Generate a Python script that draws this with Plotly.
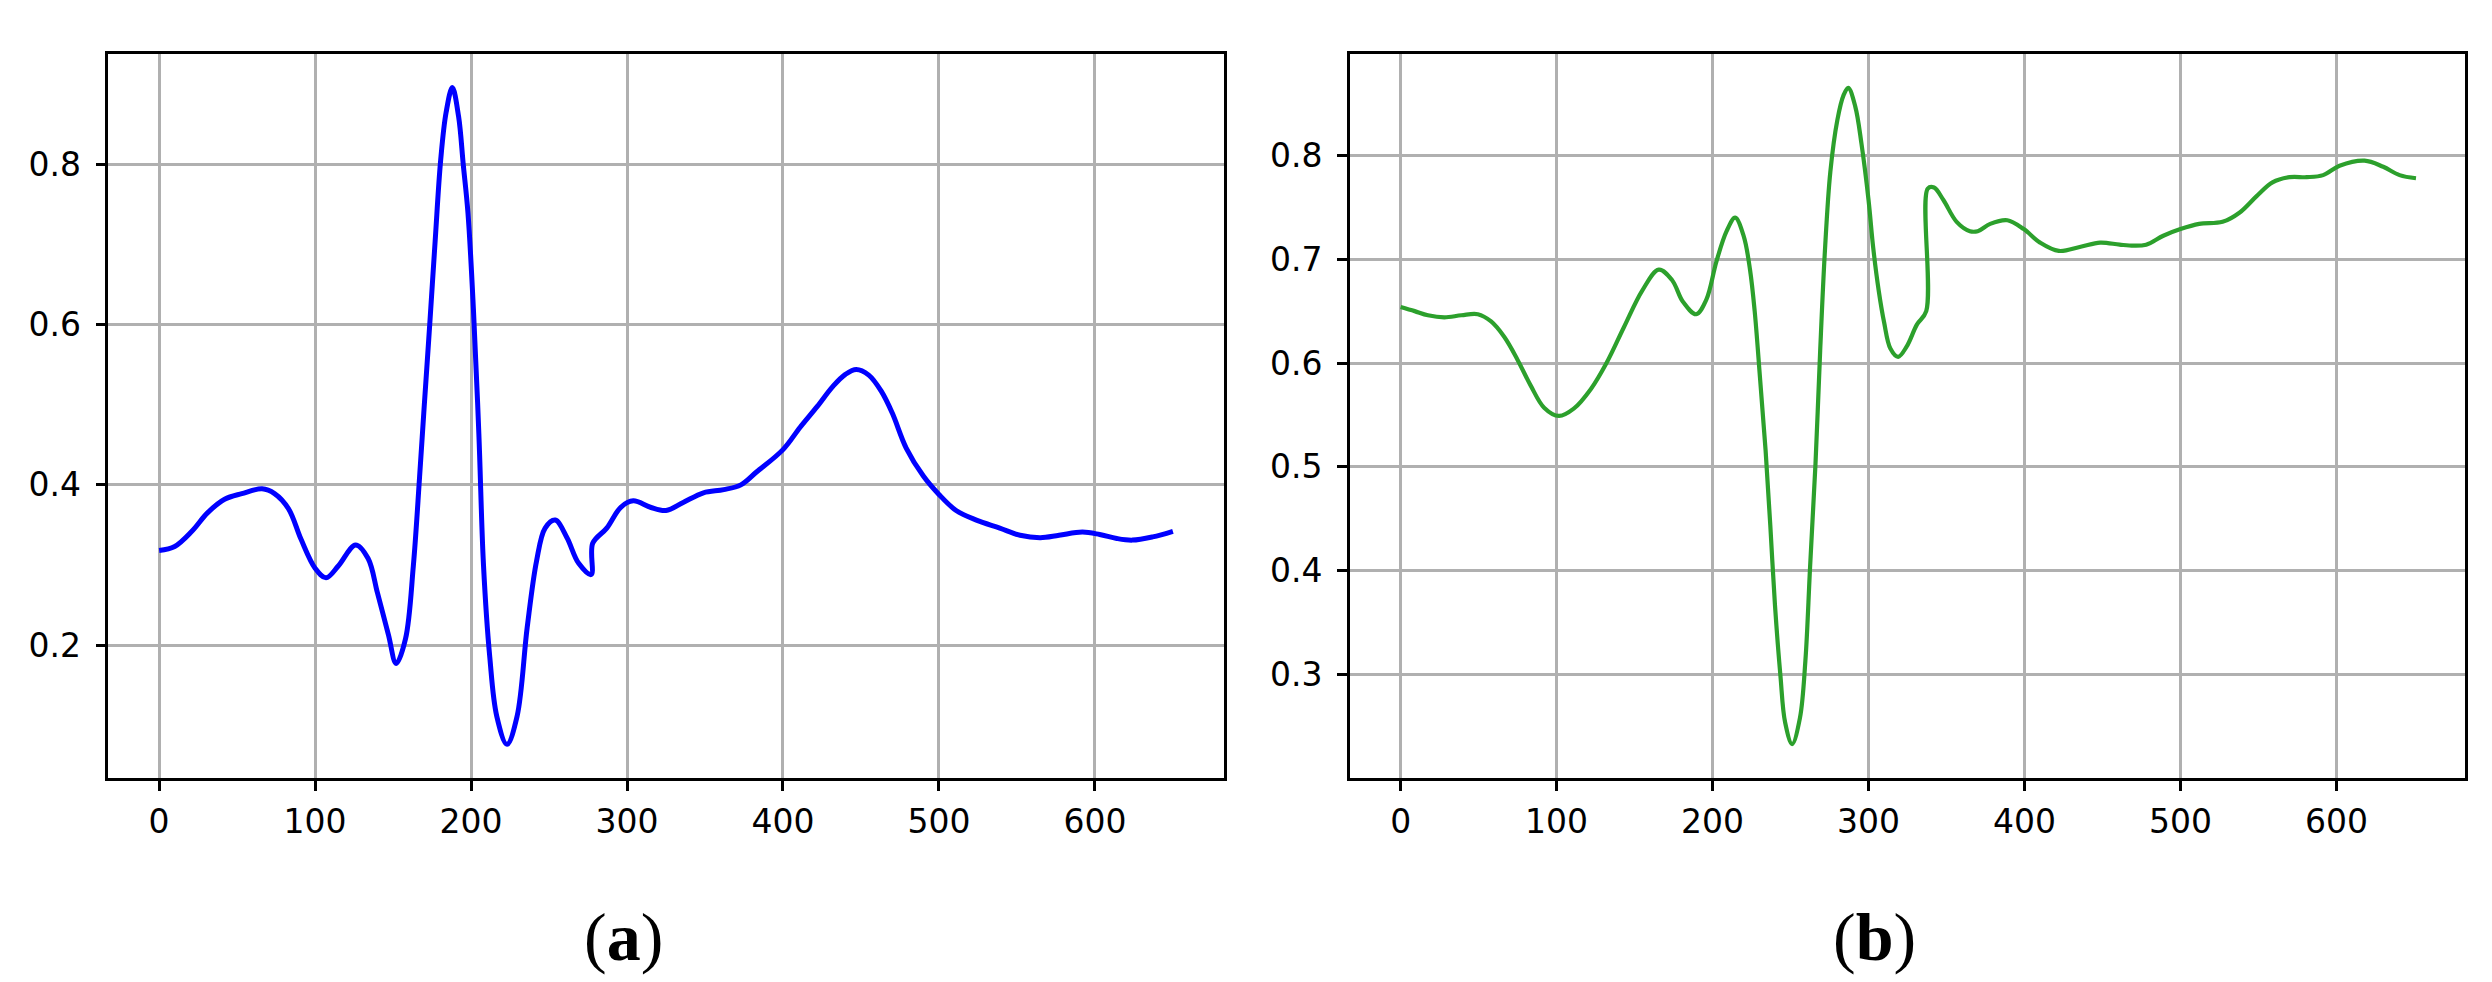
import plotly.graph_objects as go
from plotly.subplots import make_subplots

# panel (a) signal
x_a = [0, 10, 21, 31, 42, 53, 66, 74, 83, 91, 100, 107, 115, 126, 134, 140, 147, 152, 158,
       163, 167, 170, 173.5, 177, 180.5, 184, 188, 192, 195, 198, 201.5, 205, 208, 212,
       216.5, 223, 229.5, 236, 242, 247.5, 254, 261.5, 269, 277, 278, 287, 296, 304, 315,
       325, 336, 349, 362, 373, 383, 400, 411, 422, 432, 440, 447, 455, 463, 470, 479, 490,
       500, 511, 524, 539, 552, 565, 577, 592, 603, 614, 624, 637, 650]
y_a = [0.318, 0.323, 0.342, 0.365, 0.382, 0.389, 0.395, 0.389, 0.370, 0.332, 0.296, 0.284,
       0.299, 0.325, 0.308, 0.265, 0.213, 0.177, 0.208, 0.299, 0.410, 0.499, 0.600, 0.705,
       0.805, 0.865, 0.896, 0.860, 0.800, 0.740, 0.620, 0.464, 0.299, 0.185, 0.111, 0.076,
       0.111, 0.222, 0.305, 0.346, 0.356, 0.334, 0.302, 0.288, 0.327, 0.346, 0.372, 0.380,
       0.372, 0.368, 0.378, 0.390, 0.394, 0.400, 0.416, 0.444, 0.472, 0.498, 0.523, 0.538,
       0.544, 0.537, 0.517, 0.490, 0.446, 0.411, 0.388, 0.368, 0.356, 0.346, 0.337, 0.334,
       0.337, 0.341, 0.338, 0.333, 0.331, 0.335, 0.342]

# panel (b) signal
x_b = [0, 9, 17.5, 28, 39, 49.5, 58, 66.5, 75, 83.5, 92, 101.5, 111, 122, 132, 143, 155,
       165.5, 174, 181, 189.5, 196, 202.5, 209, 214.5, 220, 224, 227, 230.5, 234, 237, 240,
       243.5, 246.5, 251, 256, 259.5, 262.5, 266, 269, 272, 275.5, 280, 284, 287, 291.5,
       295.5, 300, 303, 306.5, 310, 314, 319, 324.5, 331, 337, 338, 342, 348, 356.5, 365,
       370, 378, 389, 399.5, 410, 422, 436, 448.5, 461, 470, 478, 489, 500, 512, 527, 538,
       549, 559, 570, 581, 591.5, 602, 618, 630, 640.5, 651]
y_b = [0.654, 0.650, 0.646, 0.644, 0.646, 0.647, 0.640, 0.625, 0.603, 0.578, 0.557, 0.549,
       0.556, 0.575, 0.600, 0.634, 0.670, 0.690, 0.680, 0.659, 0.647, 0.661, 0.698, 0.727,
       0.740, 0.722, 0.690, 0.650, 0.584, 0.516, 0.444, 0.367, 0.299, 0.254, 0.233, 0.258,
       0.313, 0.403, 0.503, 0.612, 0.707, 0.784, 0.834, 0.858, 0.865, 0.847, 0.811, 0.757,
       0.711, 0.670, 0.639, 0.614, 0.606, 0.616, 0.637, 0.650, 0.768, 0.769, 0.757, 0.736,
       0.727, 0.727, 0.734, 0.7375, 0.729, 0.716, 0.708, 0.712, 0.716, 0.714, 0.713, 0.714,
       0.7226, 0.729, 0.734, 0.736, 0.745, 0.761, 0.774, 0.779, 0.779, 0.781, 0.790, 0.795,
       0.789, 0.781, 0.778]

x_ticks = [0, 100, 200, 300, 400, 500, 600]
y_ticks_a = [0.2, 0.4, 0.6, 0.8]
y_ticks_b = [0.3, 0.4, 0.5, 0.6, 0.7, 0.8]
panel_labels = ["(<b>a</b>)", "(<b>b</b>)"]

fig = make_subplots(rows=1, cols=2)

fig.add_trace(go.Scatter(x=x_a, y=y_a, mode="lines",
                         line=dict(color="#0000ff", width=5, shape="spline", smoothing=1.0)),
              row=1, col=1)
fig.add_trace(go.Scatter(x=x_b, y=y_b, mode="lines",
                         line=dict(color="#2ca02c", width=4.2, shape="spline", smoothing=1.0)),
              row=1, col=2)

axis_style = dict(
    showline=True, mirror=True, linecolor="black", linewidth=2.6,
    showgrid=True, gridcolor="#b0b0b0", gridwidth=2.6,
    ticks="outside", ticklen=10, tickwidth=2.6, tickcolor="black",
    tickfont=dict(family="DejaVu Sans", size=33, color="black"),
    zeroline=False,
)

fig.update_xaxes(axis_style, ticklabelstandoff=3)
fig.update_yaxes(axis_style, ticklabelstandoff=8)

fig.update_xaxes(domain=[0.0403, 0.4878], range=[-32.5, 682.5], tickvals=x_ticks, row=1, col=1)
fig.update_xaxes(domain=[0.5385, 0.9860], range=[-32.5, 682.5], tickvals=x_ticks, row=1, col=2)
fig.update_yaxes(domain=[0.2159, 0.9532], range=[0.034, 0.938], tickvals=y_ticks_a,
                 tickformat=".1f", row=1, col=1)
fig.update_yaxes(domain=[0.2159, 0.9532], range=[0.2003, 0.8977], tickvals=y_ticks_b,
                 tickformat=".1f", row=1, col=2)

for label, xpos in zip(panel_labels, [615 / 2492, 1867 / 2492]):
    fig.add_annotation(text=label, x=xpos, y=1 - 929 / 982, xref="paper", yref="paper",
                       xanchor="center", yanchor="middle", showarrow=False,
                       font=dict(family="Liberation Serif", size=68, color="black"))

fig.update_layout(
    width=2492, height=982,
    margin=dict(l=0, r=0, t=0, b=0),
    paper_bgcolor="white", plot_bgcolor="white",
    showlegend=False,
)

fig.write_html("out.html")
